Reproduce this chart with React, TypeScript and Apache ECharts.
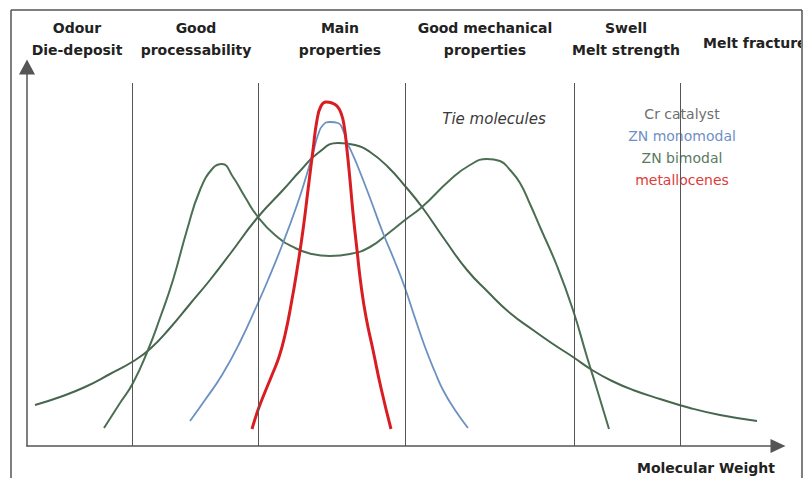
import React, { useEffect, useRef } from "react";
import * as echarts from "echarts";

// x: position along molecular-weight axis (arbitrary units), y: relative amount
const crCatalyst: [number, number][] = [
  [8, 41], [33, 49], [58, 59], [83, 72], [105, 84], [123, 97], [143, 118], [163, 142],
  [183, 166], [203, 192], [231, 229], [256, 256], [273, 275], [291, 293], [311, 303],
  [328, 301], [343, 294], [361, 279], [378, 260], [395, 239], [418, 206], [440, 176],
  [461, 154], [483, 133], [506, 116], [526, 102], [546, 89], [565, 76], [585, 65],
  [606, 56], [633, 47], [663, 38], [693, 31], [730, 25],
];

const znBimodal: [number, number][] = [
  [77, 18], [93, 43], [106, 63], [121, 96], [133, 128], [146, 166], [160, 216],
  [173, 256], [186, 278], [195, 282], [206, 269], [218, 249], [231, 229], [248, 211],
  [268, 198], [285, 192], [303, 190], [323, 192], [343, 199], [363, 214], [378, 226],
  [395, 239], [423, 266], [443, 281], [460, 287], [473, 285], [483, 276], [493, 263],
  [503, 242], [513, 219], [530, 180], [546, 136], [560, 89], [569, 60], [582, 17],
];

const znMonomodal: [number, number][] = [
  [163, 25], [178, 46], [195, 71], [213, 104], [231, 143], [241, 166], [256, 203],
  [270, 241], [279, 269], [286, 293], [291, 311], [296, 321], [303, 324], [311, 323],
  [316, 316], [320, 304], [325, 293], [331, 279], [343, 248], [356, 213], [368, 184],
  [378, 158], [388, 128], [398, 99], [408, 74], [416, 56], [428, 36], [441, 18],
];

const metallocenes: [number, number][] = [
  [225, 17], [231, 36], [238, 54], [245, 71], [252, 89], [258, 111], [264, 141],
  [270, 176], [276, 216], [281, 256], [286, 296], [290, 326], [294, 340], [299, 344],
  [305, 343], [310, 340], [314, 333], [317, 321], [320, 296], [323, 266], [326, 233],
  [330, 196], [334, 161], [339, 129], [346, 96], [354, 58], [364, 17],
];

const regionBounds = [105, 231, 378, 547, 653];
const regionTop = 363;

const regionLabels = [
  "Odour\nDie-deposit",
  "Good\nprocessability",
  "Main\nproperties",
  "Good mechanical\nproperties",
  "Swell\nMelt strength",
  "Melt fracture",
];

const seriesNames = ["Cr catalyst", "ZN monomodal", "ZN bimodal", "metallocenes"];
const annotation = "Tie molecules";
const xAxisTitle = "Molecular Weight";

export default function App() {
  const ref = useRef<HTMLDivElement>(null);

  useEffect(() => {
    if (!ref.current) return;
    const chart = echarts.init(ref.current, null, { renderer: "svg" });
    const font = "DejaVu Sans";
    const labelPos = [
      [77, 39], [196, 39], [340, 39], [485, 39], [626, 39],
    ];
    const legendColors = ["#6e6e6e", "#6f90c6", "#5a7a5f", "#e03a3a"];
    const legendY = [114, 136, 158, 180];

    const graphics: any[] = [];
    regionLabels.forEach((t, i) => {
      if (i < 5) {
        graphics.push({
          type: "text",
          x: labelPos[i][0],
          y: labelPos[i][1],
          style: {
            text: t, fill: "#222", fontFamily: font, fontWeight: "bold", fontSize: 14,
            align: "center", verticalAlign: "middle", lineHeight: 22,
          },
        });
      } else {
        graphics.push({
          type: "text", x: 703, y: 43,
          style: {
            text: t, fill: "#222", fontFamily: font, fontWeight: "bold", fontSize: 14,
            align: "left", verticalAlign: "middle",
          },
        });
      }
    });
    seriesNames.forEach((n, i) => {
      graphics.push({
        type: "text", x: 682, y: legendY[i],
        style: {
          text: n, fill: legendColors[i], fontFamily: font, fontSize: 14,
          align: "center", verticalAlign: "middle",
        },
      });
    });
    graphics.push({
      type: "text", x: 494, y: 119,
      style: {
        text: annotation, fill: "#3a3a3a", fontFamily: font, fontStyle: "italic", fontSize: 15,
        align: "center", verticalAlign: "middle",
      },
    });
    graphics.push({
      type: "text", x: 706, y: 468,
      style: {
        text: xAxisTitle, fill: "#222", fontFamily: font, fontWeight: "bold", fontSize: 14,
        align: "center", verticalAlign: "middle",
      },
    });
    // cover overflow beyond the frame
    graphics.push({ type: "rect", z: 50, shape: { x: 801, y: 0, width: 10, height: 478 }, style: { fill: "#fff" } });
    // frame
    const frame = { stroke: "#555", lineWidth: 1.5 };
    graphics.push({ type: "line", z: 60, shape: { x1: 11, y1: 10, x2: 802, y2: 10 }, style: frame });
    graphics.push({ type: "line", z: 60, shape: { x1: 11, y1: 10, x2: 11, y2: 478 }, style: frame });
    graphics.push({ type: "line", z: 60, shape: { x1: 802, y1: 10, x2: 802, y2: 478 }, style: frame });

    const lineSeries = (name: string, data: [number, number][], color: string, width: number, extra: any = {}) => ({
      name, type: "line", data, showSymbol: false, symbol: "none", smooth: 0.5,
      lineStyle: { color, width }, itemStyle: { color }, silent: true, ...extra,
    });

    chart.setOption({
      animation: false,
      grid: { left: 27, right: 28, top: 67, bottom: 32 },
      xAxis: {
        type: "value", min: 0, max: 751,
        axisLine: { show: true, lineStyle: { color: "#555", width: 1.5 }, symbol: ["none", "triangle"], symbolSize: [14, 15] },
        axisTick: { show: false }, axisLabel: { show: false }, splitLine: { show: false },
      },
      yAxis: {
        type: "value", min: 0, max: 379,
        axisLine: { show: true, lineStyle: { color: "#555", width: 1.5 }, symbol: ["none", "triangle"], symbolSize: [16, 15] },
        axisTick: { show: false }, axisLabel: { show: false }, splitLine: { show: false },
      },
      series: [
        lineSeries(seriesNames[0], crCatalyst, "#46664d", 2, {
          markLine: {
            silent: true, symbol: "none", label: { show: false },
            lineStyle: { color: "#555", width: 1, type: "solid" },
            data: regionBounds.map((b) => [{ coord: [b, 0] }, { coord: [b, regionTop] }]),
          },
        }),
        lineSeries(seriesNames[2], znBimodal, "#4b6f52", 2),
        lineSeries(seriesNames[1], znMonomodal, "#6b91c2", 1.8),
        lineSeries(seriesNames[3], metallocenes, "#d81e22", 3),
      ],
      graphic: graphics,
    });
    return () => chart.dispose();
  }, []);

  return (
    <div
      ref={ref}
      style={{ position: "absolute", left: 0, top: 0, width: 806, height: 478, background: "#fff" }}
    />
  );
}
